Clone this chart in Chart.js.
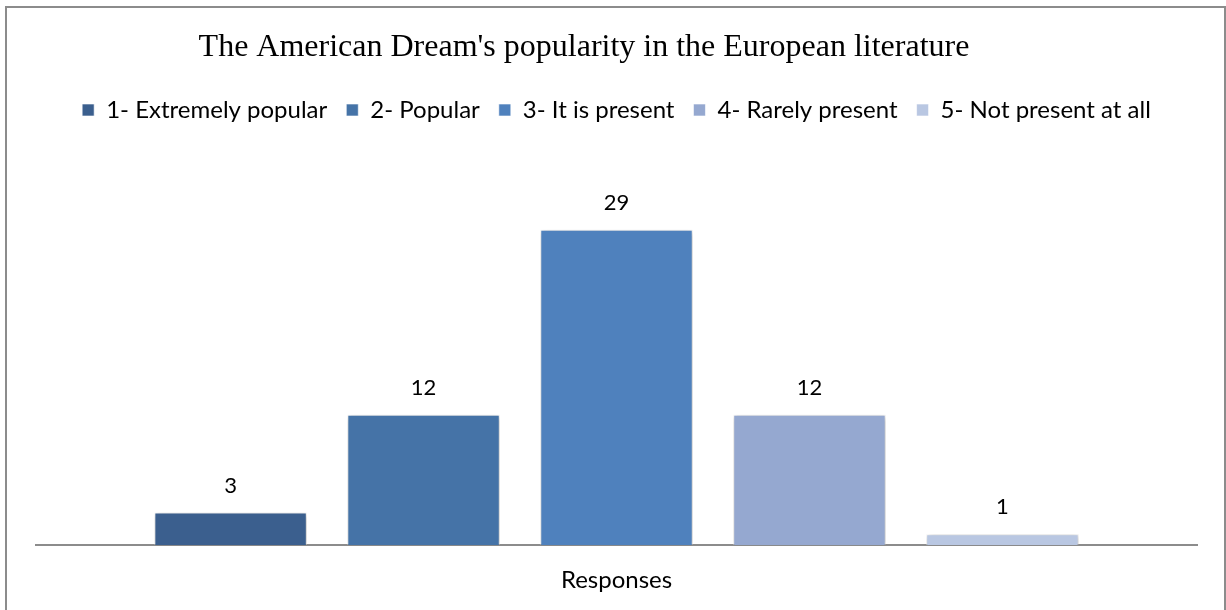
<!DOCTYPE html>
<html>
<head>
    <meta charset="UTF-8">
    <title>The American Dream's popularity in the European literature</title>
    <script src="https://cdn.jsdelivr.net/npm/chart.js"></script>
    <style>
        html, body {
            margin: 0;
            padding: 0;
            background: #ffffff;
            overflow: hidden;
        }
        .wrap {
            position: relative;
            width: 1226px;
            height: 610px;
        }
        canvas {
            position: absolute;
            left: 0;
            top: 0;
        }
        .frame {
            position: absolute;
            left: 5px;
            top: 6px;
            width: 1217px;
            height: 620px;
            border: 2px solid #8c8c8c;
            border-bottom: none;
            pointer-events: none;
        }
    </style>
</head>
<body>
<div class="wrap">
    <canvas id="chart" width="1226" height="610"></canvas>
    <div class="frame"></div>
</div>

<script>
// 数据
const chartTitle = "The American Dream's popularity in the European literature";
const categories = ['Responses'];
const seriesNames = ['1- Extremely popular', '2- Popular', '3- It is present', '4- Rarely present', '5- Not present at all'];
const seriesValues = [3, 12, 29, 12, 1];
const seriesColors = ['#3b5f8e', '#4573a7', '#4f81bd', '#95a8d0', '#b9c7e2'];

const labelFont = 'Lato, "Liberation Sans", sans-serif';

// 柱子阴影
const barShadow = {
    id: 'barShadow',
    beforeDatasetsDraw(chart) {
        const ctx = chart.ctx;
        ctx.save();
        ctx.shadowColor = 'rgba(0,0,0,0.3)';
        ctx.shadowBlur = 6;
        ctx.shadowOffsetX = 1;
        ctx.shadowOffsetY = 1;
    },
    afterDatasetsDraw(chart) {
        chart.ctx.restore();
    }
};

// 标题和数值标签
const textLayer = {
    id: 'textLayer',
    afterDraw(chart) {
        const ctx = chart.ctx;
        ctx.save();
        ctx.fillStyle = '#000';
        ctx.textAlign = 'center';
        ctx.textBaseline = 'middle';
        ctx.font = '32px "Liberation Serif", "Times New Roman", serif';
        ctx.fillText(chartTitle, 584, 48);

        ctx.font = '22px ' + labelFont;
        chart.data.datasets.forEach((ds, i) => {
            const bar = chart.getDatasetMeta(i).data[0];
            ctx.fillText(String(ds.data[0]), bar.x, bar.y - 27);
        });
        ctx.restore();
    }
};

new Chart(document.getElementById('chart'), {
    type: 'bar',
    data: {
        labels: categories,
        datasets: seriesNames.map((name, i) => ({
            label: name,
            data: [seriesValues[i]],
            backgroundColor: seriesColors[i],
            borderColor: 'rgba(255,255,255,0.6)',
            borderWidth: 1,
            categoryPercentage: 0.831,
            barPercentage: 0.79
        }))
    },
    options: {
        responsive: false,
        animation: false,
        layout: {
            padding: { top: 79, left: 36, right: 29, bottom: -6 }
        },
        plugins: {
            title: { display: false },
            tooltip: { enabled: false },
            legend: {
                position: 'top',
                labels: {
                    boxWidth: 12,
                    boxHeight: 12,
                    padding: 19,
                    color: '#000',
                    font: { size: 24, family: labelFont }
                }
            }
        },
        scales: {
            x: {
                grid: { display: false, drawTicks: false },
                border: { display: true, color: '#8c8c8c', width: 2 },
                ticks: {
                    color: '#000',
                    padding: 21,
                    font: { size: 24, family: labelFont }
                }
            },
            y: {
                display: false,
                min: 0,
                max: 38
            }
        }
    },
    plugins: [barShadow, textLayer]
});
</script>
</body>
</html>
